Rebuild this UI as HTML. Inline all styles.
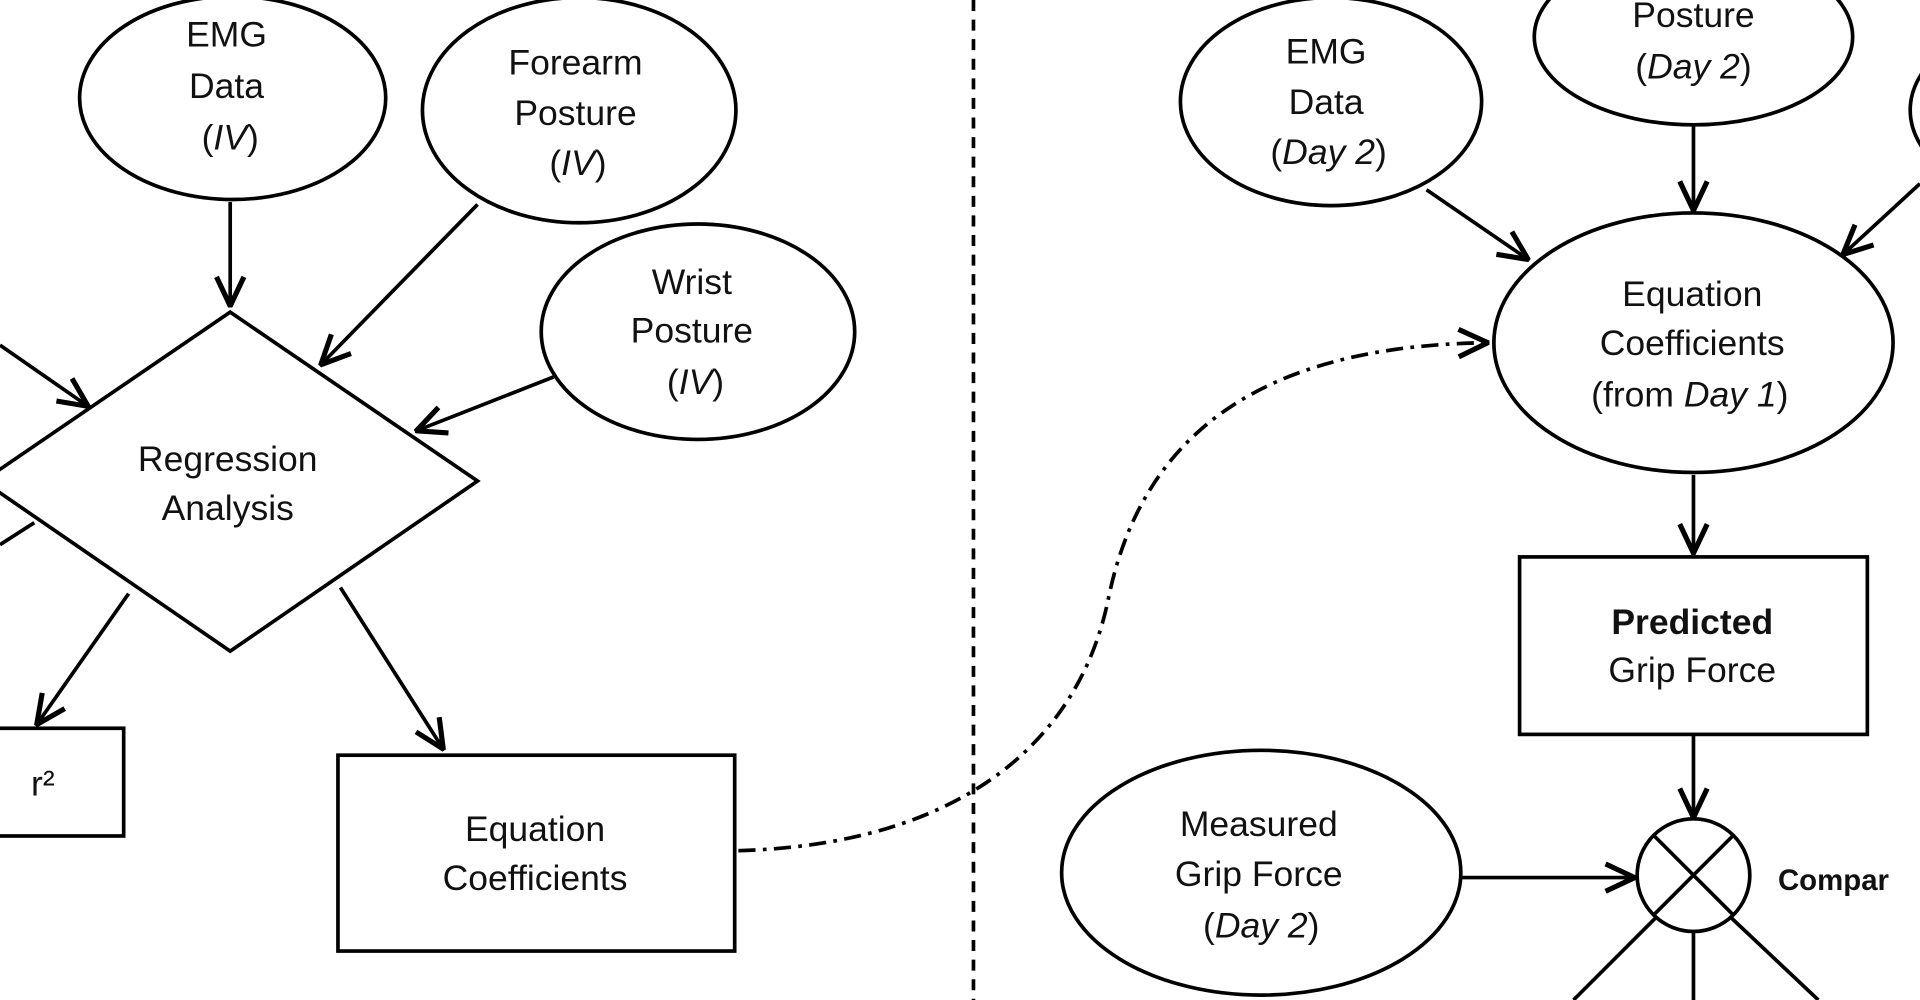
<!DOCTYPE html>
<html><head><meta charset="utf-8"><style>
html,body{margin:0;padding:0;background:#fff;width:1920px;height:1000px;overflow:hidden}
svg{display:block}
text{font-family:"Liberation Sans",Arial,sans-serif;font-size:29px;fill:#111;text-anchor:middle}
</style></head><body>
<svg width="1920" height="1000" viewBox="0 0 1568 817" preserveAspectRatio="none" xmlns="http://www.w3.org/2000/svg">
<defs>
<marker id="a" viewBox="0 0 10 10" refX="9" refY="5" markerWidth="9" markerHeight="9" markerUnits="userSpaceOnUse" orient="auto">
</marker>
<marker id="ar" viewBox="0 0 20 20" refX="19" refY="10" markerWidth="28" markerHeight="28" markerUnits="userSpaceOnUse" orient="auto">
<path d="M2,2 L19,10 L2,18" fill="none" stroke="#000" stroke-width="3"/>
</marker>
</defs>
<g fill="#fff" stroke="#000" stroke-width="3">
<ellipse cx="190" cy="80" rx="125" ry="83"/>
<ellipse cx="473" cy="90" rx="128" ry="92"/>
<ellipse cx="570" cy="271" rx="128" ry="88"/>
<polygon points="188,255 390,393 188,532 -14,393"/>
<rect x="-5" y="595" width="106" height="88"/>
<rect x="276" y="617" width="324" height="160"/>
<ellipse cx="1087" cy="83" rx="123" ry="85"/>
<ellipse cx="1383" cy="30" rx="130" ry="72"/>
<ellipse cx="1690" cy="90" rx="130" ry="80"/>
<ellipse cx="1383" cy="280" rx="163" ry="106"/>
<rect x="1241" y="455" width="284" height="145"/>
<ellipse cx="1030" cy="713" rx="163" ry="100"/>
<circle cx="1383" cy="715" r="46"/>
</g>
<g stroke="#000" stroke-width="3" fill="none">
<line x1="1350" y1="682" x2="1416" y2="748"/>
<line x1="1416" y1="682" x2="1350" y2="748"/>
<line x1="188" y1="165" x2="188" y2="250" marker-end="url(#ar)"/>
<line x1="390" y1="167" x2="262" y2="298" marker-end="url(#ar)"/>
<line x1="452" y1="308" x2="340" y2="352" marker-end="url(#ar)"/>
<line x1="0" y1="282" x2="72" y2="332" marker-end="url(#ar)"/>
<line x1="0" y1="445" x2="28" y2="427"/>
<line x1="105" y1="485" x2="30" y2="592" marker-end="url(#ar)"/>
<line x1="278" y1="480" x2="362" y2="612" marker-end="url(#ar)"/>
<line x1="1165" y1="155" x2="1248" y2="212" marker-end="url(#ar)"/>
<line x1="1383" y1="103" x2="1383" y2="172" marker-end="url(#ar)"/>
<line x1="1568" y1="150" x2="1505" y2="208" marker-end="url(#ar)"/>
<line x1="1383" y1="388" x2="1383" y2="452" marker-end="url(#ar)"/>
<line x1="1383" y1="600" x2="1383" y2="668" marker-end="url(#ar)"/>
<line x1="1193" y1="717" x2="1335" y2="717" marker-end="url(#ar)"/>
<line x1="1352" y1="750" x2="1285" y2="817"/>
<line x1="1383" y1="761" x2="1383" y2="817"/>
<line x1="1414" y1="750" x2="1485" y2="817"/>
<line x1="795" y1="0" x2="795" y2="817" stroke-dasharray="9,7"/>
<path d="M603,695 C780,690 880,610 905,490 C935,340 1050,282 1215,280" stroke-dasharray="14,6,3,6" marker-end="url(#ar)"/>
</g>
<text x="185" y="38">EMG</text><text x="185" y="80">Data</text><text x="188" y="122">(<tspan font-style="italic">IV</tspan>)</text>
<text x="470" y="61">Forearm</text><text x="470" y="102">Posture</text><text x="472" y="143">(<tspan font-style="italic">IV</tspan>)</text>
<text x="565" y="240">Wrist</text><text x="565" y="280">Posture</text><text x="568" y="322">(<tspan font-style="italic">IV</tspan>)</text>
<text x="186" y="385">Regression</text><text x="186" y="425">Analysis</text>
<text x="35" y="650">r²</text>
<text x="437" y="687">Equation</text><text x="437" y="727">Coefficients</text>
<text x="1083" y="52">EMG</text><text x="1083" y="93">Data</text><text x="1085" y="134">(<tspan font-style="italic">Day 2</tspan>)</text>
<text x="1383" y="22">Posture</text><text x="1383" y="64">(<tspan font-style="italic">Day 2</tspan>)</text>
<text x="1382" y="250">Equation</text><text x="1382" y="290">Coefficients</text><text x="1380" y="332">(from <tspan font-style="italic">Day 1</tspan>)</text>
<text x="1382" y="518" font-weight="bold" style="font-weight:bold">Predicted</text><text x="1382" y="557">Grip Force</text>
<text x="1028" y="683">Measured</text><text x="1028" y="724">Grip Force</text><text x="1030" y="766">(<tspan font-style="italic">Day 2</tspan>)</text>
<text x="1452" y="727" style="text-anchor:start;font-weight:bold;font-size:24px">Compar</text>
</svg>
</body></html>
